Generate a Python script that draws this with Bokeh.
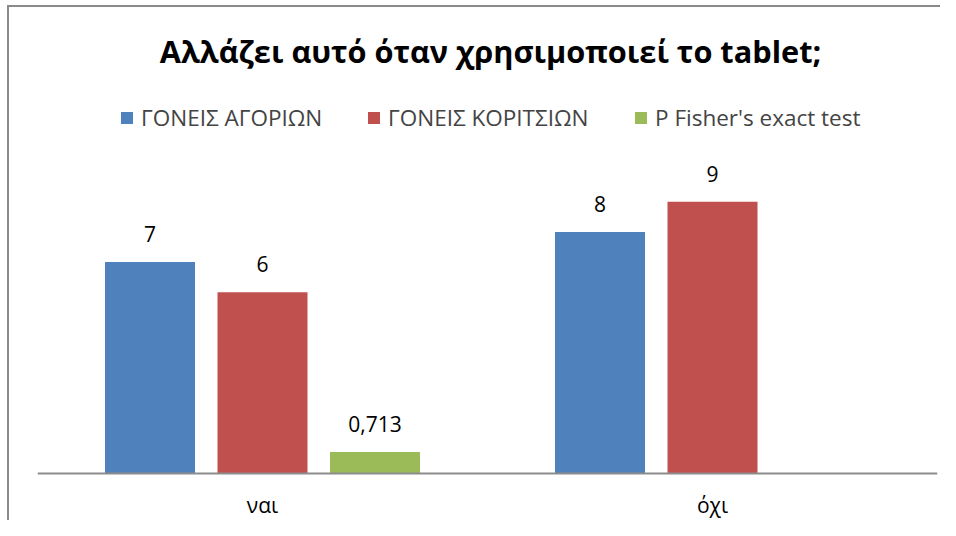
from bokeh.plotting import figure
from bokeh.models import ColumnDataSource, Range1d, FactorRange, Legend, LegendItem, Label
from bokeh.transform import dodge
from bokeh.embed import file_html
from bokeh.resources import INLINE
from bokeh.core.properties import value

title_text = "Αλλάζει αυτό όταν χρησιμοποιεί το tablet;"
categories = ["ναι", "όχι"]
series_names = ["ΓΟΝΕΙΣ ΑΓΟΡΙΩΝ", "ΓΟΝΕΙΣ ΚΟΡΙΤΣΙΩΝ", "P Fisher's exact test"]
boys = [7, 8]
girls = [6, 9]
fisher = [0.713, None]
boys_labels = ["7", "8"]
girls_labels = ["6", "9"]
fisher_labels = ["0,713", ""]
colors = ["#4F81BD", "#C0504D", "#9BBB59"]

FONT = "Open Sans"

p = figure(width=940, height=520, x_range=FactorRange(*categories, range_padding=0),
           y_range=Range1d(-1.556, 15.662), output_backend="svg", toolbar_location=None,
           min_border_left=37, min_border_right=3, min_border_top=0, min_border_bottom=0)
p.outline_line_color = None
p.border_fill_color = None
p.background_fill_color = None
p.styles = {"background-color": "#ffffff",
            "box-shadow": "inset 7px 5px 0 0 #ffffff, inset 9px 7px 0 0 #8a8a8a"}
p.xgrid.grid_line_color = None
p.ygrid.grid_line_color = None
p.yaxis.visible = False
p.xaxis.fixed_location = 0
p.xaxis.axis_line_color = "#8c8c8c"
p.xaxis.axis_line_width = 2
p.xaxis.major_tick_line_color = None
p.xaxis.minor_tick_line_color = None
p.xaxis.major_label_standoff = 11
p.xaxis.major_label_text_font = FONT
p.xaxis.major_label_text_font_size = "21px"
p.xaxis.major_label_text_color = "#000000"

offsets = [-0.25, 0.0, 0.25]
datasets = [(boys, boys_labels), (girls, girls_labels), (fisher, fisher_labels)]
renderers = []
for i, ((vals, labs), col) in enumerate(zip(datasets, colors)):
    cats = [c for c, v in zip(categories, vals) if v is not None]
    vs = [v for v in vals if v is not None]
    ls = [l for l, v in zip(labs, vals) if v is not None]
    src = ColumnDataSource(dict(x=cats, top=vs, label=ls))
    r = p.vbar(x=dodge("x", offsets[i], range=p.x_range), top="top", width=0.2,
               source=src, fill_color=col, line_color=None)
    renderers.append(r)
    p.text(x=dodge("x", offsets[i], range=p.x_range), y="top", text="label", source=src,
           text_align="center", text_baseline="bottom", y_offset=-20,
           text_font=value(FONT), text_font_size="21px", text_color="#000000")

title = Label(x=453, y=470, x_units="screen", y_units="screen", text=title_text,
              text_align="center", text_baseline="middle", text_font=FONT,
              text_font_size="30.7px", text_font_style="bold", text_color="#000000")
p.add_layout(title)

legend_x = [82, 329, 596]
for n, r, lx in zip(series_names, renderers, legend_x):
    lg = Legend(items=[LegendItem(label=n, renderers=[r])],
                orientation="horizontal", location=(lx, 387), background_fill_alpha=0,
                border_line_color=None, label_text_font=FONT, label_text_font_size="22.5px",
                glyph_width=15, glyph_height=15, label_standoff=7, padding=0, margin=0)
    p.add_layout(lg, "center")

open("out.html", "w").write(file_html(p, INLINE))
